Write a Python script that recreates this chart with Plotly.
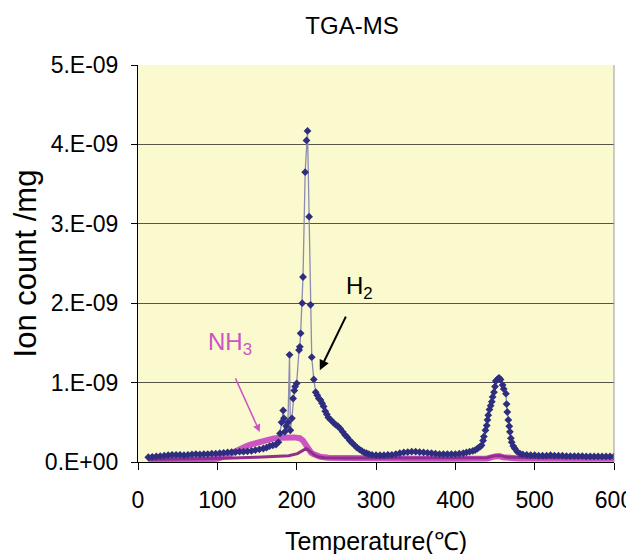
import plotly.graph_objects as go

# ---------------- data (ion count in units of 1E-09 /mg) ----------------
h2_temp = [13, 18, 23, 28, 33, 38, 43, 48, 53, 58, 63, 68, 73, 78, 83, 88, 93, 98,
           103, 108, 113, 118, 123, 128, 133, 138, 143, 148, 153, 158, 162, 166, 170,
           174, 177, 179, 181, 183, 184, 185, 187, 189, 191, 192, 194, 195.5, 197, 198,
           200, 203, 204, 205, 207, 208, 210.7, 212.4, 213.7, 215.7, 217.5, 219, 221.6,
           224, 226, 228, 230, 232, 234, 236, 238, 240, 243, 246, 249, 252, 255, 258,
           261, 264, 267, 270, 273, 276, 279, 282, 285, 288, 291, 295, 300, 305, 310,
           315, 320, 325, 330, 335, 340, 345, 350, 355, 360, 365, 370, 375, 380, 385,
           390, 395, 400, 405, 410, 414, 418, 422, 425, 428, 431, 433, 435, 436, 438,
           439.6, 440.5, 441.5, 443, 444.5, 446, 447, 448.7, 450, 451, 453, 455, 457,
           459.6, 461, 463.8, 464.6, 465.5, 466.8, 468, 468.8, 470, 471, 473, 475, 478,
           481.5, 485, 490, 495, 500, 505, 510, 515, 520, 525, 530, 535, 540, 545, 550,
           555, 560, 565, 570, 575, 580, 585, 590, 595, 600]
h2_val = [0.06, 0.065, 0.07, 0.075, 0.08, 0.085, 0.09, 0.09, 0.09, 0.085, 0.09, 0.095,
          0.1, 0.095, 0.1, 0.1, 0.105, 0.105, 0.11, 0.115, 0.12, 0.125, 0.125, 0.13,
          0.13, 0.135, 0.14, 0.15, 0.16, 0.17, 0.18, 0.2, 0.21, 0.22, 0.25, 0.36, 0.5,
          0.65, 0.55, 0.38, 0.45, 0.5, 1.35, 0.4, 0.55, 0.8, 0.9, 0.95, 0.99, 1.41, 1.45,
          1.62, 2.0, 2.33, 3.65, 4.05, 4.17, 3.09, 1.98, 1.32, 1.04, 0.88, 0.84, 0.8,
          0.78, 0.74, 0.7, 0.64, 0.6, 0.56, 0.53, 0.5, 0.47, 0.45, 0.42, 0.38, 0.34,
          0.31, 0.27, 0.24, 0.21, 0.18, 0.16, 0.14, 0.12, 0.11, 0.1, 0.09, 0.085, 0.085,
          0.085, 0.09, 0.09, 0.1, 0.11, 0.12, 0.125, 0.13, 0.13, 0.125, 0.12, 0.115,
          0.11, 0.105, 0.1, 0.1, 0.1, 0.1, 0.1, 0.105, 0.11, 0.12, 0.13, 0.14, 0.15,
          0.17, 0.19, 0.21, 0.27, 0.32, 0.4, 0.46, 0.53, 0.59, 0.66, 0.71, 0.76, 0.82,
          0.88, 0.95, 1.02, 1.04, 1.06, 1.04, 0.97, 0.92, 0.86, 0.73, 0.63, 0.53, 0.45,
          0.38, 0.3, 0.25, 0.2, 0.17, 0.13, 0.105, 0.095, 0.09, 0.085, 0.085, 0.08,
          0.08, 0.08, 0.085, 0.08, 0.08, 0.08, 0.075, 0.075, 0.075, 0.075, 0.075, 0.07,
          0.07, 0.07, 0.07, 0.07, 0.07, 0.07, 0.07]

nh3_temp = [13, 30, 50, 70, 90, 100, 107, 112, 117, 122, 127, 132, 137, 142, 148, 155,
            162, 170, 178, 185, 191, 197, 204, 208, 212, 215, 218, 221, 225, 230, 240,
            260, 300, 350, 400, 440, 450, 455, 460, 480, 550, 600]
nh3_val = [0.02, 0.02, 0.025, 0.03, 0.035, 0.04, 0.06, 0.08, 0.1, 0.13, 0.16, 0.18,
           0.2, 0.22, 0.24, 0.26, 0.28, 0.295, 0.305, 0.31, 0.315, 0.31, 0.3, 0.27,
           0.21, 0.16, 0.12, 0.1, 0.08, 0.065, 0.055, 0.05, 0.04, 0.04, 0.04, 0.045,
           0.07, 0.075, 0.06, 0.045, 0.04, 0.04]

other_temp = [13, 50, 100, 150, 176, 190, 201, 207, 212, 215, 218, 222, 227, 235, 260,
              300, 400, 440, 450, 457, 465, 500, 600]
other_val = [0.03, 0.035, 0.045, 0.06, 0.07, 0.08, 0.105, 0.14, 0.17, 0.15, 0.12, 0.09,
             0.065, 0.055, 0.05, 0.05, 0.05, 0.055, 0.08, 0.08, 0.06, 0.055, 0.055]

y_ticks = [0, 1, 2, 3, 4, 5]
y_tick_labels = ["0.E+00", "1.E-09", "2.E-09", "3.E-09", "4.E-09", "5.E-09"]
x_ticks = [0, 100, 200, 300, 400, 500, 600]

SCALE = 1e-9
FONT = "Liberation Sans, Arial, sans-serif"

fig = go.Figure()
fig.add_trace(go.Scatter(
    x=nh3_temp, y=[v * SCALE for v in nh3_val], mode="lines", name="NH3",
    line=dict(color="#CC55C4", width=6), hoverinfo="skip"))
fig.add_trace(go.Scatter(
    x=other_temp, y=[v * SCALE for v in other_val], mode="lines", name="m/z trace",
    line=dict(color="#8E2E8E", width=3), hoverinfo="skip"))
fig.add_trace(go.Scatter(
    x=h2_temp, y=[v * SCALE for v in h2_val], mode="lines+markers", name="H2",
    line=dict(color="#8C8CB0", width=1.3),
    marker=dict(symbol="diamond", size=6, color="#2E2E80")))

fig.update_layout(
    width=634, height=554,
    margin=dict(l=130, r=28, t=57, b=100),
    paper_bgcolor="white",
    plot_bgcolor="#FBF9CE",
    showlegend=False,
    font=dict(family=FONT, size=22, color="black"),
    title=dict(text="TGA-MS", x=344 / 634, xref="container", xanchor="center",
               y=1 - 18 / 554, yref="container", yanchor="middle",
               font=dict(family=FONT, size=24, color="black")),
    xaxis=dict(range=[0, 600], tickvals=x_ticks, ticks="outside", ticklen=7,
               tickcolor="black", showline=True, linecolor="black", linewidth=1,
               showgrid=False, zeroline=False, ticklabelstandoff=10, automargin=False,
               tickfont=dict(size=23),
               title=dict(text="Temperature(℃)", font=dict(size=25), standoff=20)),
    yaxis=dict(range=[0, 5 * SCALE], tickvals=[t * SCALE for t in y_ticks],
               ticktext=y_tick_labels, ticks="outside", ticklen=6, tickcolor="black",
               showline=True, linecolor="black", linewidth=1, automargin=False,
               showgrid=True, gridcolor="#55554A", gridwidth=1, zeroline=False,
               ticklabelstandoff=8, tickfont=dict(size=23),
               title=dict(text="Ion count /mg", font=dict(size=31), standoff=12)),
)

# right border of the plot area
fig.add_shape(type="line", xref="paper", yref="paper", x0=1, x1=1, y0=0, y1=1,
              line=dict(color="#9A9A9A", width=1))

# labels with arrows
fig.add_annotation(x=279.6, y=2.2 * SCALE, text="H<sub>2</sub>", showarrow=False,
                   font=dict(size=24, color="black"))
fig.add_annotation(x=229.2, y=1.157 * SCALE, ax=262.9, ay=1.85 * SCALE,
                   axref="x", ayref="y", text="", showarrow=True, arrowhead=2,
                   arrowsize=1, arrowwidth=2, arrowcolor="black")
fig.add_annotation(x=115.7, y=1.49 * SCALE, text="NH<sub>3</sub>", showarrow=False,
                   font=dict(size=24, color="#CC55C4"))
fig.add_annotation(x=153.5, y=0.378 * SCALE, ax=122, ay=1.072 * SCALE,
                   axref="x", ayref="y", text="", showarrow=True, arrowhead=2,
                   arrowsize=1, arrowwidth=1.5, arrowcolor="#CC55C4")

fig.write_html("out.html")
